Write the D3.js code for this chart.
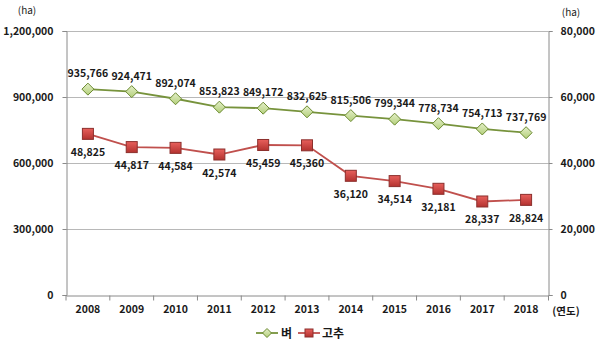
<!DOCTYPE html>
<html>
<head>
<meta charset="utf-8">
<script src="https://cdn.jsdelivr.net/npm/d3@7/dist/d3.min.js"></script>
<style>
  html, body { margin: 0; padding: 0; background: #fff; }
  svg { display: block; }
  text { font-family: "Noto Sans CJK KR", "Noto Sans", sans-serif; fill: #1a1a1a; }
</style>
</head>
<body>
<svg id="chart" width="600" height="347"></svg>
<script>
// Cultivated area by year: rice (left axis) and red pepper (right axis), in ha
const years = ["2008","2009","2010","2011","2012","2013","2014","2015","2016","2017","2018"];
const rice = [935766, 924471, 892074, 853823, 849172, 832625, 815506, 799344, 778734, 754713, 737769];
const pepper = [48825, 44817, 44584, 42574, 45459, 45360, 36120, 34514, 32181, 28337, 28824];
const leftTicks = [0, 300000, 600000, 900000, 1200000];
const rightTicks = [0, 20000, 40000, 60000, 80000];
const seriesNames = ["벼", "고추"];

const svg = d3.select("#chart");
const L = 66, R = 548, T = 31, B = 295;
const fmt = d3.format(",");

const x = d3.scaleBand().domain(years).range([L, R]);
const yL = d3.scaleLinear().domain([0, 1200000]).range([B, T]);
const yR = d3.scaleLinear().domain([0, 80000]).range([B, T]);

const defs = svg.append("defs");
const gG = defs.append("linearGradient").attr("id", "gGreen").attr("x1", 0).attr("y1", 0).attr("x2", 0).attr("y2", 1);
gG.append("stop").attr("offset", "0%").attr("stop-color", "#e4efc9");
gG.append("stop").attr("offset", "100%").attr("stop-color", "#b3cf7a");
const gR = defs.append("linearGradient").attr("id", "gRed").attr("x1", 0).attr("y1", 0).attr("x2", 0).attr("y2", 1);
gR.append("stop").attr("offset", "0%").attr("stop-color", "#e8605c");
gR.append("stop").attr("offset", "100%").attr("stop-color", "#b3322f");

// horizontal gridlines
svg.append("g").selectAll("line").data(leftTicks.slice(1)).join("line")
  .attr("x1", L).attr("x2", R)
  .attr("y1", d => Math.round(yL(d)) + 0.5).attr("y2", d => Math.round(yL(d)) + 0.5)
  .attr("stroke", "#b8b8b8").attr("stroke-width", 1);

// left axis
const axL = svg.append("g").attr("transform", `translate(${L + 0.5},0)`)
  .call(d3.axisLeft(yL).tickValues(leftTicks).tickFormat(fmt).tickSize(4).tickPadding(9));
// right axis
const axR = svg.append("g").attr("transform", `translate(${R + 0.5},0)`)
  .call(d3.axisRight(yR).tickValues(rightTicks).tickFormat(fmt).tickSize(4).tickPadding(8));
// bottom axis with ticks at band boundaries
const axB = svg.append("g").attr("transform", `translate(0,${B + 0.5})`)
  .call(d3.axisBottom(x).tickSize(0).tickPadding(10));
axB.selectAll(".tick").append("line")
  .attr("x1", -x.bandwidth() / 2).attr("x2", -x.bandwidth() / 2)
  .attr("y1", 0).attr("y2", 5).attr("stroke", "#8a8a8a");
axB.append("line").attr("x1", x.bandwidth() * 5.5 + x.bandwidth() / 2 + x.bandwidth() * 5).attr("x2", x.bandwidth() * 11)
  .attr("stroke", "none");

[axL, axR, axB].forEach(a => {
  a.select(".domain").attr("stroke", "#8a8a8a");
  a.selectAll(".tick line").attr("stroke", "#8a8a8a");
  a.selectAll("text").attr("font-size", 10.5).attr("font-weight", "bold").attr("fill", "#1a1a1a")
    .style("font-family", "'Noto Sans CJK KR', sans-serif");
});
// final boundary tick at the right end of the x axis
axB.append("line").attr("x1", R + 0.5).attr("x2", R + 0.5).attr("y1", 0).attr("y2", 5).attr("stroke", "#8a8a8a");

// unit labels
svg.append("text").attr("x", 27).attr("y", 14).attr("text-anchor", "middle").attr("font-size", 10).text("(ha)");
svg.append("text").attr("x", 571).attr("y", 16).attr("text-anchor", "middle").attr("font-size", 10).text("(ha)");
svg.append("text").attr("x", 566).attr("y", 315).attr("text-anchor", "middle").attr("font-size", 10.5).attr("font-weight", "bold").text("(연도)");

const cx = d => x(d) + x.bandwidth() / 2;

// rice series
svg.append("path").datum(rice)
  .attr("fill", "none").attr("stroke", "#77933c").attr("stroke-width", 1.8)
  .attr("d", d3.line().x((d, i) => cx(years[i])).y(d => yL(d)));
svg.append("g").selectAll("path").data(rice).join("path")
  .attr("transform", (d, i) => `translate(${cx(years[i])},${yL(d)})`)
  .attr("d", "M0,-6L6,0L0,6L-6,0Z")
  .attr("fill", "url(#gGreen)").attr("stroke", "#6b8a30").attr("stroke-width", 1);
svg.append("g").selectAll("text").data(rice).join("text")
  .attr("x", (d, i) => cx(years[i])).attr("y", d => yL(d) - 12)
  .attr("text-anchor", "middle").attr("font-size", 10.5).attr("font-weight", "bold")
  .text(d => fmt(d));

// pepper series
svg.append("path").datum(pepper)
  .attr("fill", "none").attr("stroke", "#c0504d").attr("stroke-width", 1.8)
  .attr("d", d3.line().x((d, i) => cx(years[i])).y(d => yR(d)));
svg.append("g").selectAll("rect").data(pepper).join("rect")
  .attr("x", (d, i) => cx(years[i]) - 5.5).attr("y", d => yR(d) - 5.5)
  .attr("width", 11).attr("height", 11)
  .attr("fill", "url(#gRed)").attr("stroke", "#8c2f2c").attr("stroke-width", 1);
svg.append("g").selectAll("text").data(pepper).join("text")
  .attr("x", (d, i) => cx(years[i])).attr("y", d => yR(d) + 22)
  .attr("text-anchor", "middle").attr("font-size", 10.5).attr("font-weight", "bold")
  .text(d => fmt(d));

// legend
const lg = svg.append("g").attr("transform", "translate(0,333)");
lg.append("line").attr("x1", 256).attr("x2", 278).attr("stroke", "#77933c").attr("stroke-width", 1.8);
lg.append("path").attr("transform", "translate(267,0)").attr("d", "M0,-4.5L4.5,0L0,4.5L-4.5,0Z")
  .attr("fill", "url(#gGreen)").attr("stroke", "#6b8a30");
lg.append("text").attr("x", 281).attr("y", 4.5).attr("font-size", 12).attr("font-weight", "bold").text(seriesNames[0]);
lg.append("line").attr("x1", 298).attr("x2", 320).attr("stroke", "#c0504d").attr("stroke-width", 1.8);
lg.append("rect").attr("x", 305).attr("y", -4).attr("width", 8).attr("height", 8)
  .attr("fill", "url(#gRed)").attr("stroke", "#8c2f2c");
lg.append("text").attr("x", 322).attr("y", 4.5).attr("font-size", 12).attr("font-weight", "bold").text(seriesNames[1]);
</script>
</body>
</html>
